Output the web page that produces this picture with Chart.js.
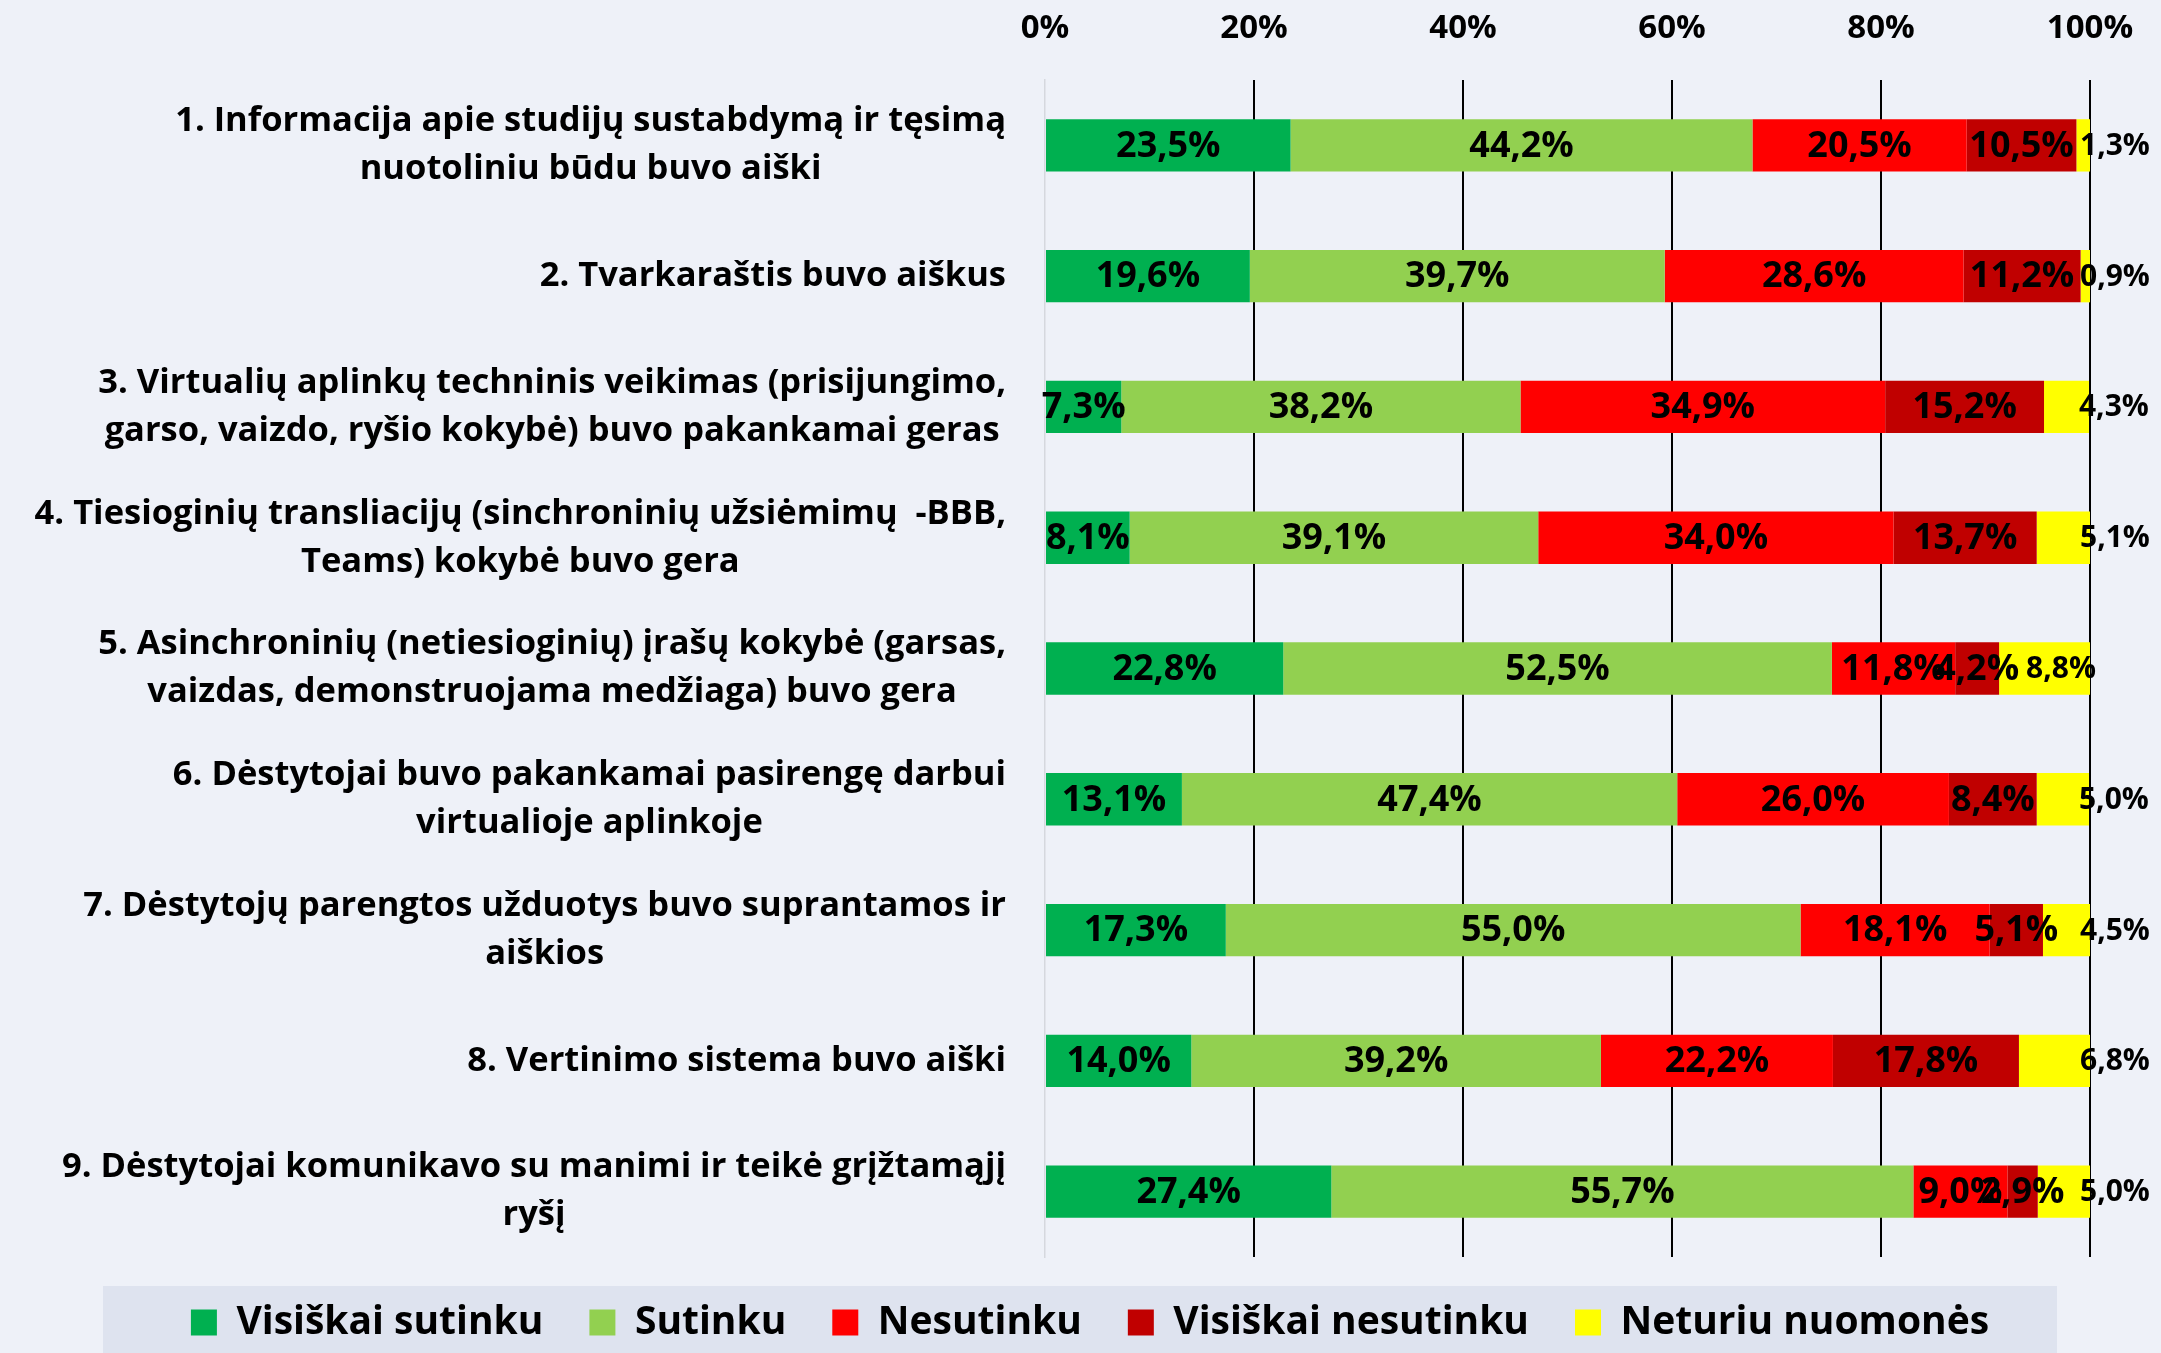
<!DOCTYPE html>
<html>
<head>
<meta charset="utf-8">
<script src="https://cdn.jsdelivr.net/npm/chart.js@4/dist/chart.umd.min.js"></script>
<style>
  body { margin: 0; background: #EEF1F8; }
  #wrap { width: 2161px; height: 1353px; }
</style>
</head>
<body>
<div id="wrap"><canvas id="surveyChart"></canvas></div>
<script>
// Questions (y categories), split into lines as in the original
const questions = [
    ['1. Informacija apie studijų sustabdymą ir tęsimą', 'nuotoliniu būdu buvo aiški'],
    ['2. Tvarkaraštis buvo aiškus'],
    ['3. Virtualių aplinkų techninis veikimas (prisijungimo,', 'garso, vaizdo, ryšio kokybė) buvo pakankamai geras'],
    ['4. Tiesioginių transliacijų (sinchroninių užsiėmimų  -BBB,', 'Teams) kokybė buvo gera'],
    ['5. Asinchroninių (netiesioginių) įrašų kokybė (garsas,', 'vaizdas, demonstruojama medžiaga) buvo gera'],
    ['6. Dėstytojai buvo pakankamai pasirengę darbui', 'virtualioje aplinkoje'],
    ['7. Dėstytojų parengtos užduotys buvo suprantamos ir', 'aiškios'],
    ['8. Vertinimo sistema buvo aiški'],
    ['9. Dėstytojai komunikavo su manimi ir teikė grįžtamąjį', 'ryšį']
];

const answerNames = ['Visiškai sutinku', 'Sutinku', 'Nesutinku', 'Visiškai nesutinku', 'Neturiu nuomonės'];

// Percentages per answer, one value per question
const fullyAgree    = [23.5, 19.6, 7.3, 8.1, 22.8, 13.1, 17.3, 14.0, 27.4];
const agree         = [44.2, 39.7, 38.2, 39.1, 52.5, 47.4, 55.0, 39.2, 55.7];
const disagree      = [20.5, 28.6, 34.9, 34.0, 11.8, 26.0, 18.1, 22.2, 9.0];
const fullyDisagree = [10.5, 11.2, 15.2, 13.7, 4.2, 8.4, 5.1, 17.8, 2.9];
const noOpinion     = [1.3, 0.9, 4.3, 5.1, 8.8, 5.0, 4.5, 6.8, 5.0];

const xTicks = [0, 20, 40, 60, 80, 100];

const colors = ['#00B050', '#92D050', '#FF0000', '#C00000', '#FFFF00'];
const seriesData = [fullyAgree, agree, disagree, fullyDisagree, noOpinion];

const FONT = '"Open Sans", "DejaVu Sans", sans-serif';

// Wrapped question labels: block right aligned, lines centred to each other
const questionLabels = {
    id: 'questionLabels',
    afterDraw(chart) {
        const ctx = chart.ctx;
        const yScale = chart.scales.y;
        const right = chart.chartArea.left - 39;
        const lineGap = 48;
        ctx.save();
        ctx.font = 'bold 34.5px ' + FONT;
        ctx.fillStyle = '#000';
        ctx.textAlign = 'center';
        ctx.textBaseline = 'middle';
        questions.forEach((lines, i) => {
            const yc = yScale.getPixelForTick(i);
            const maxW = Math.max(...lines.map(l => ctx.measureText(l).width));
            const cx = right - maxW / 2;
            const y0 = yc - (lines.length - 1) * lineGap / 2;
            lines.forEach((l, k) => ctx.fillText(l, cx, y0 + k * lineGap));
        });
        ctx.restore();
    }
};

// Percent labels on the bar segments
const segmentLabels = {
    id: 'segmentLabels',
    afterDatasetsDraw(chart) {
        const ctx = chart.ctx;
        ctx.save();
        ctx.fillStyle = '#000';
        ctx.textBaseline = 'middle';
        chart.data.datasets.forEach((ds, di) => {
            const meta = chart.getDatasetMeta(di);
            meta.data.forEach((bar, i) => {
                const v = ds.data[i];
                const text = v.toFixed(1).replace('.', ',') + '%';
                const left = Math.min(bar.x, bar.base);
                const right = Math.max(bar.x, bar.base);
                if (di === 4) {
                    // "no opinion" labels are a bit smaller and sit at the bar end
                    ctx.font = 'bold 30px ' + FONT;
                    if (v < 8) {
                        ctx.textAlign = 'left';
                        ctx.fillText(text, right - 10, bar.y + 1);
                    } else {
                        ctx.textAlign = 'center';
                        ctx.fillText(text, (left + right) / 2 + 16, bar.y + 1);
                    }
                } else {
                    ctx.font = 'bold 36px ' + FONT;
                    ctx.textAlign = 'center';
                    ctx.fillText(text, (left + right) / 2, bar.y + 1);
                }
            });
        });
        ctx.restore();
    }
};

// Grey-blue box behind the legend
const legendBox = {
    id: 'legendBox',
    beforeDraw(chart) {
        const lg = chart.legend;
        if (!lg || !lg.legendHitBoxes.length) return;
        const boxes = lg.legendHitBoxes;
        const top = boxes[0].top - 17;
        const ctx = chart.ctx;
        ctx.save();
        ctx.fillStyle = '#DEE3EF';
        ctx.fillRect(103, top, 2057 - 103, chart.height - top);
        ctx.restore();
    }
};

new Chart(document.getElementById('surveyChart'), {
    type: 'bar',
    data: {
        labels: questions.map(q => q.join(' ')),
        datasets: answerNames.map((name, i) => ({
            label: name,
            data: seriesData[i],
            backgroundColor: colors[i],
            borderWidth: 0,
            categoryPercentage: 1,
            barPercentage: 0.4
        }))
    },
    options: {
        indexAxis: 'y',
        responsive: true,
        maintainAspectRatio: false,
        animation: false,
        layout: {
            padding: { left: 90, right: 71, top: 0, bottom: 1 }
        },
        scales: {
            x: {
                position: 'top',
                stacked: true,
                min: 0,
                max: 100,
                afterBuildTicks: scale => {
                    scale.ticks = xTicks.map(v => ({ value: v }));
                },
                afterFit: scale => {
                    scale.height = 80;
                    scale.paddingLeft = 0;
                    scale.paddingRight = 0;
                },
                ticks: {
                    padding: 32,
                    color: '#000',
                    font: { family: FONT, size: 33, weight: 'bold' },
                    callback: v => v + '%'
                },
                grid: {
                    drawTicks: false,
                    color: c => (c.tick && c.tick.value === 0) ? 'rgba(0,0,0,0)' : '#000',
                    lineWidth: 2
                },
                border: { display: false }
            },
            y: {
                stacked: true,
                afterFit: scale => { scale.width = 1045 - 90; },
                ticks: { display: false },
                grid: { display: false },
                border: { display: true, color: '#D5D8DE', width: 1.5 }
            }
        },
        plugins: {
            tooltip: { enabled: false },
            legend: {
                position: 'bottom',
                labels: {
                    boxWidth: 26,
                    boxHeight: 26,
                    padding: 46,
                    color: '#000',
                    font: { family: FONT, size: 39, weight: 'bold' }
                }
            }
        }
    },
    plugins: [legendBox, questionLabels, segmentLabels]
});
</script>
</body>
</html>
